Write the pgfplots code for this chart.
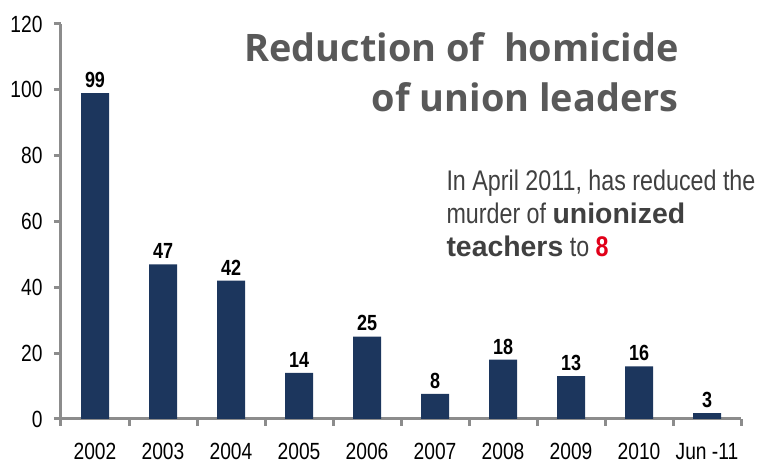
\documentclass[border=0pt]{standalone}
\usepackage{pgfplots}
\pgfplotsset{compat=1.18}
\usepackage{fontspec}
\setmainfont{Liberation Sans}
\newfontfamily\narrow[FakeStretch=0.82]{Liberation Sans}
\newfontfamily\titlefont{Open Sans}
\definecolor{barblue}{RGB}{28,54,93}
\definecolor{axgray}{RGB}{140,140,140}
\definecolor{titlegray}{RGB}{89,89,89}
\definecolor{txtgray}{RGB}{64,64,64}
\definecolor{red8}{RGB}{225,0,25}
\begin{document}
\begin{tikzpicture}[x=1bp,y=1bp]
\useasboundingbox (-61,-45) rectangle (704,419);
\begin{axis}[
  at={(0,0)}, anchor=south west,
  scale only axis, width=680bp, height=395bp,
  xmin=-0.5, xmax=9.5, ymin=0, ymax=120,
  axis x line*=bottom, axis y line*=left,
  axis line style={axgray, line width=3bp, -},
  xtick={0,...,9},
  xticklabels={2002,2003,2004,2005,2006,2007,2008,2009,2010,Jun -11},
  minor xtick={-0.5,0.5,...,9.5},
  ytick={0,20,...,120},
  tick align=outside,
  major x tick style={draw=none},
  minor tick length=7bp, major tick length=7bp,
  every tick/.style={axgray, line width=3bp},
  tick label style={font=\narrow\fontsize{23.5}{23.5}\selectfont, black},
  xticklabel style={yshift=-14bp},
  yticklabel style={xshift=-8bp},
  /pgf/number format/assume math mode=true,
  ybar, bar width=28bp,
  point meta=explicit,
  nodes near coords={\pgfmathprintnumber{\pgfplotspointmeta}},
  nodes near coords style={font=\narrow\bfseries\fontsize{22}{22}\selectfont, black, yshift=2bp},
  clip=false,
]
\addplot[fill=barblue, draw=none] coordinates {
 (0,99) [99] (1,47) [47] (2,42) [42] (3,14) [14] (4,25) [25]
 (5,7.6) [8] (6,18) [18] (7,13) [13] (8,16) [16] (9,1.8) [3]
};
\end{axis}
\node[anchor=east, align=right, text=titlegray, font=\titlefont\bfseries\fontsize{38}{50}\selectfont] at (621,347) {Reduction of\ \ homicide\\of union leaders};
\node[anchor=west, align=left, text=txtgray, font=\narrow\fontsize{28.5}{33}\selectfont] at (382,206) {In April 2011, has reduced the\\murder of {\fontspec{Liberation Sans}\bfseries unionized}\\{\fontspec{Liberation Sans}\bfseries teachers} to {\color{red8}\bfseries 8}};
\end{tikzpicture}
\end{document}
